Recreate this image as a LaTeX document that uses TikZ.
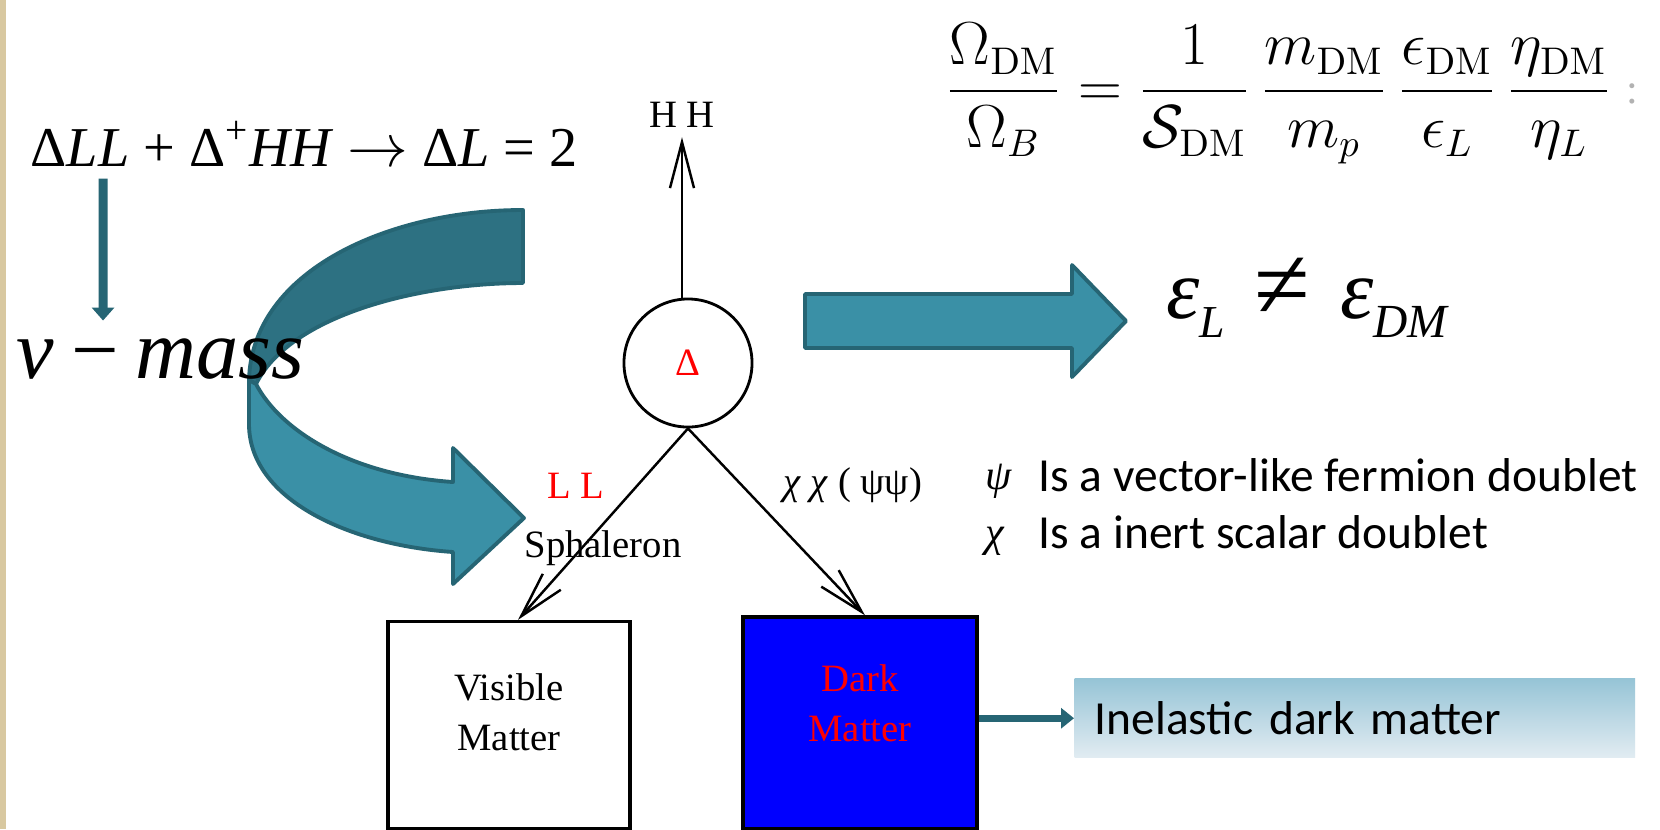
\documentclass[tikz,border=0pt]{standalone}
\usepackage[no-math]{fontspec}
\setmainfont{Liberation Serif}
\newfontfamily\calib{Carlito}
\usetikzlibrary{arrows.meta}
\definecolor{tealdark}{RGB}{45,113,130}
\definecolor{teallight}{RGB}{58,144,166}
\definecolor{tealedge}{RGB}{38,101,116}
\definecolor{beige}{RGB}{216,200,160}
\begin{document}
\begin{tikzpicture}[x=0.01cm, y=-0.01cm,
figline/.style={line width=0.7pt, -{Straight Barb[length=0.46cm, width=0.24cm]}},
figtxt/.style={font=\fontsize{11}{14.2}\selectfont, inner sep=0},
matterbox/.style={draw, line width=0.9pt, minimum width=2.42cm, minimum height=2.07cm, font=\fontsize{11}{14.2}\selectfont},
tealblock/.style={draw=tealedge, line width=1.1pt, fill=teallight, line join=round},
tealarrow/.style={draw=tealedge, line width=0.09cm, -{Triangle[length=0.13cm, width=0.22cm]}},
sidetxt/.style={anchor=base west, inner sep=0, font=\calib\fontsize{13.5}{15}\selectfont},
greek/.style={anchor=base west, inner sep=0, font=\fontsize{12}{14}\selectfont\itshape}
]
\fill[white] (0,0) rectangle (1660,829);
\useasboundingbox (0,0) rectangle (1660,829);
\fill[beige] (0,0) rectangle (6,829);

\node[anchor=base west, inner sep=0, font=\fontsize{16}{18}\selectfont] (eqn) at (30,166)
  {Δ\textit{LL} + Δ\textsuperscript{+}\textit{HH} $\rightarrow$ Δ\textit{L} = 2};

% curved block arrow
\path[tealblock, fill=tealdark] (523,210) .. controls (390,210) and (252,270) .. (249,380)
  -- (256,384) .. controls (290,315) and (420,283) .. (523,283) -- cycle;
\path[tealblock] (249,380) -- (249,425) .. controls (250,500) and (350,545) .. (453,552)
  -- (453,584) -- (524,518) -- (453,448) -- (453,482)
  .. controls (350,475) and (280,430) .. (256,384) -- cycle;

\node[anchor=base west, inner sep=0, font=\fontsize{24}{26}\selectfont] (vmass) at (16,378)
  {\textit{v}\hspace{0.2em}−\hspace{0.2em}\textit{mass}};
\draw[tealarrow] ([xshift=0.73cm, yshift=-0.12cm]eqn.south west) -- ([xshift=0.87cm, yshift=0.17cm]vmass.north west);

\node[figtxt, inner sep=2.5pt] (hh) at (682,115) {H H};
\node[draw, circle, line width=0.8pt, minimum size=1.28cm, inner sep=0, text=red, font=\fontsize{11}{12}\selectfont] (delta) at (688,363) {Δ};
\node[matterbox] (vis) at (509,725) {\raisebox{0cm}[0pt][0pt]{\begin{tabular}{@{}c@{}}Visible\\Matter\end{tabular}}};
\node[matterbox, fill=blue, text=red, minimum width=2.34cm, minimum height=2.11cm] (dark) at (860,722.5)
  {\raisebox{0.06cm}[0pt][0pt]{\begin{tabular}{@{}c@{}}Dark\\Matter\end{tabular}}};

\draw[figline] (delta.north -| hh.south) -- (hh.south);
\draw[figline] (delta.south) -- ([xshift=0.09cm]vis.north);
\draw[figline] (delta.south) -- ([xshift=0.05cm]dark.north);
\node[figtxt, text=red] (ll) at (576,486) {L L};
\node[figtxt] (sph) at (603,548) {Sphaleron};
\node[figtxt] (chichi) at (853,485) {\textit{χ χ} ( ψψ)};

% straight block arrow
\path[tealblock] (805,294) -- (1072,294) -- (1072,265) -- (1126,321) -- (1072,377) -- (1072,348) -- (805,348) -- cycle;
\node[anchor=base west, inner sep=0, font=\fontsize{24}{26}\selectfont\itshape] (epsne) at (1166,318)
  {ε\raisebox{-0.19cm}{\fontsize{13}{13}\selectfont L}\hspace{0.35em}\upshape\scalebox{1.2}{≠}\hspace{0.35em}\itshape ε\raisebox{-0.19cm}{\fontsize{13.5}{13.5}\selectfont DM}};

\node[anchor=base west, inner sep=0, font=\fontsize{16}{19}\selectfont] (ratio) at (945,106)
  {$\displaystyle \frac{\Omega_{\mathrm{DM}}}{\Omega_B} = \frac{1}{\mathcal{S}_{\mathrm{DM}}}\,\frac{m_{\mathrm{DM}}}{m_p}\,\frac{\epsilon_{\mathrm{DM}}}{\epsilon_L}\,\frac{\eta_{\mathrm{DM}}}{\eta_L}$};
\node[inner sep=0, text=black!30, font=\fontsize{12}{12}\selectfont] (colon) at (1632,94) {:};

\node[greek] (psi) at (985,489) {ψ};
\node[sidetxt] (psitxt) at (1038,491) {Is a vector-like fermion doublet};
\node[greek] (chi) at (985,546) {χ};
\node[sidetxt] (chitxt) at (1038,548) {Is a inert scalar doublet};

\node[anchor=north west, minimum height=0.79cm, text width=5.2cm, inner xsep=0.2cm, inner ysep=0, align=left,
  top color={rgb,255:red,150;green,196;blue,214}, bottom color={rgb,255:red,226;green,236;blue,242},
  font=\calib\fontsize{13.5}{16}\selectfont] (ide) at (1074,678) {Inelastic dark matter};
\draw[tealarrow, line width=0.07cm, -{Triangle[length=0.13cm, width=0.2cm]}] (dark.east |- ide.west) -- (ide.west);
\end{tikzpicture}
\end{document}
